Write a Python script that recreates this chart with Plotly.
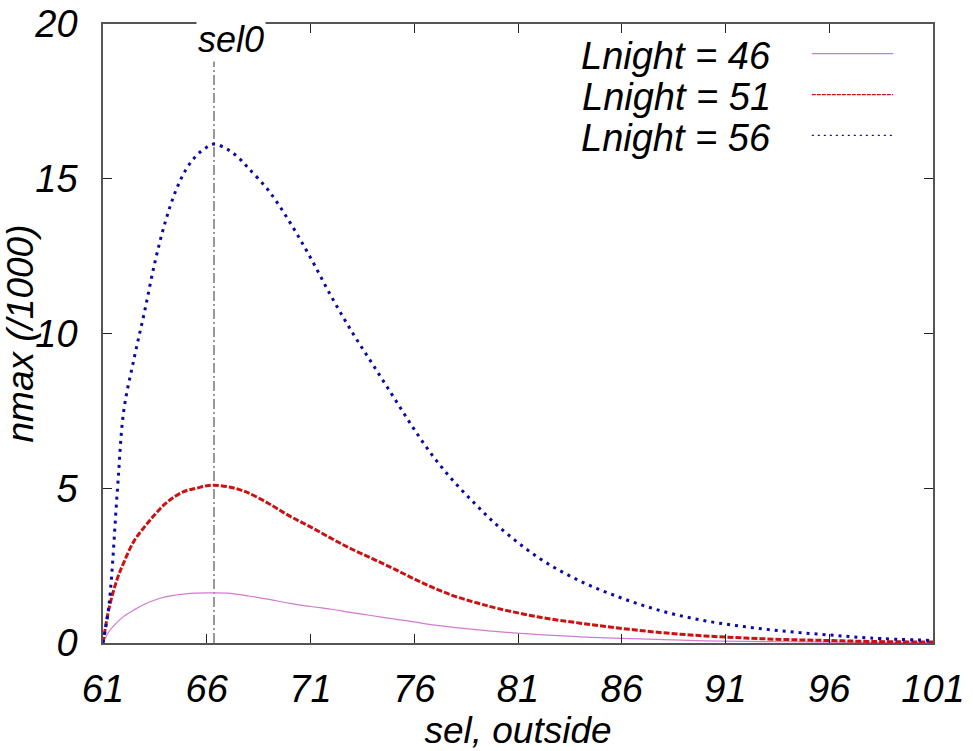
import plotly.graph_objects as go

# ---- data ----
sel = [61, 61.3, 61.7, 62, 62.5, 63, 63.5, 64, 64.5, 65, 65.5, 66, 66.35, 67, 67.5, 68,
       69, 70, 71, 72, 73, 74, 75, 76, 77, 78, 79, 80, 82, 84, 86, 88, 90, 92, 94, 96, 98, 101]

nmax_46 = [0, 0.38, 0.68, 0.86, 1.07, 1.25, 1.39, 1.49, 1.55, 1.59, 1.61, 1.62, 1.62, 1.61, 1.57, 1.52,
           1.41, 1.28, 1.18, 1.09, 0.98, 0.88, 0.78, 0.68, 0.58, 0.50, 0.43, 0.37, 0.27, 0.20, 0.15, 0.11,
           0.07, 0.05, 0.04, 0.03, 0.02, 0.02]

nmax_51 = [0, 1.15, 2.1, 2.6, 3.3, 3.75, 4.15, 4.5, 4.75, 4.92, 5.0, 5.08, 5.1, 5.05, 4.97, 4.85,
           4.5, 4.1, 3.75, 3.38, 3.03, 2.72, 2.4, 2.07, 1.76, 1.5, 1.3, 1.12, 0.84, 0.64, 0.47, 0.33,
           0.23, 0.16, 0.11, 0.08, 0.05, 0.03]

nmax_56 = [0, 1.3, 5.0, 7.5, 9.2, 10.7, 12.3, 13.6, 14.6, 15.3, 15.75, 16.02, 16.12, 15.95, 15.7, 15.35,
           14.6, 13.6, 12.45, 11.2, 10.05, 9.0, 7.95, 6.9, 5.95, 5.15, 4.45, 3.8, 2.75, 2.0, 1.45, 1.02,
           0.72, 0.52, 0.37, 0.26, 0.16, 0.08]

series_names = ["Lnight = 46", "Lnight = 51", "Lnight = 56"]
sel0 = 66.35
x_ticks = [61, 66, 71, 76, 81, 86, 91, 96, 101]
y_ticks = [0, 5, 10, 15, 20]

# ---- styles ----
FONT = "Liberation Sans, Arial, sans-serif"
styles = [
    dict(color="#d27ad2", width=1.2, dash="solid"),
    dict(color="#cc1111", width=3, dash="6px,2px"),
    dict(color="#0a0aa8", width=3, dash="3px,5px"),
]

fig = go.Figure()
for name, ys, st in zip(series_names, [nmax_46, nmax_51, nmax_56], styles):
    fig.add_trace(go.Scatter(x=sel, y=ys, mode="lines", name=name, line=st,
                             line_shape="spline", showlegend=False))

# vertical sel0 line
fig.add_shape(type="line", xref="x", yref="paper", x0=sel0, x1=sel0, y0=0, y1=1,
              line=dict(color="#555555", width=1.2, dash="10px,3px,2px,3px"), layer="below")
fig.add_annotation(x=sel0, xref="x", y=0.975, yref="paper", text="<i>sel0</i>", showarrow=False,
                   xshift=17, bgcolor="white", font=dict(family=FONT, size=36, color="black"),
                   yanchor="middle")

# manual legend (text on left, sample on right)
leg_y = [0.948, 0.882, 0.816]
for name, st, yy in zip(series_names, styles, leg_y):
    fig.add_annotation(x=0.807, xref="paper", y=yy, yref="paper", text="<i>" + name + "</i>",
                       showarrow=False, xanchor="right", yanchor="middle",
                       font=dict(family=FONT, size=38, color="black"))
    lw = 1.2 if st["dash"] == "solid" else 1.3
    fig.add_shape(type="line", xref="paper", yref="paper", x0=0.854, x1=0.952, y0=yy + 0.004, y1=yy + 0.004,
                  line=dict(color=st["color"], width=lw,
                            dash="solid" if st["dash"] == "solid" else ("4px,1px" if "6px" in st["dash"] else "2px,4px")))

axis_common = dict(showline=True, linecolor="#555555", linewidth=1.5, mirror="ticks",
                   ticks="inside", ticklen=9, tickcolor="#222222", tickwidth=1.2,
                   showgrid=False, zeroline=False, automargin=False,
                   tickfont=dict(family=FONT, size=38, color="black"))

fig.update_xaxes(range=[61, 101], tickvals=x_ticks, ticktext=["<i>%d</i>" % v for v in x_ticks],
                 title=dict(text="<i>sel, outside</i>", font=dict(family=FONT, size=37, color="black"),
                            standoff=8),
                 ticklabelstandoff=12, **axis_common)
fig.update_yaxes(range=[0, 20], tickvals=y_ticks, ticktext=["<i>%d</i>" % v for v in y_ticks],
                 title=dict(text="<i>nmax (/1000)</i>", font=dict(family=FONT, size=37, color="black"),
                            standoff=2),
                 ticklabelstandoff=16, **axis_common)

fig.update_layout(width=973, height=751, margin=dict(l=103, r=40, t=24, b=108),
                  plot_bgcolor="white", paper_bgcolor="white")

fig.write_html("out.html", config={"displayModeBar": False},
               post_script="document.body.style.margin='0';")
